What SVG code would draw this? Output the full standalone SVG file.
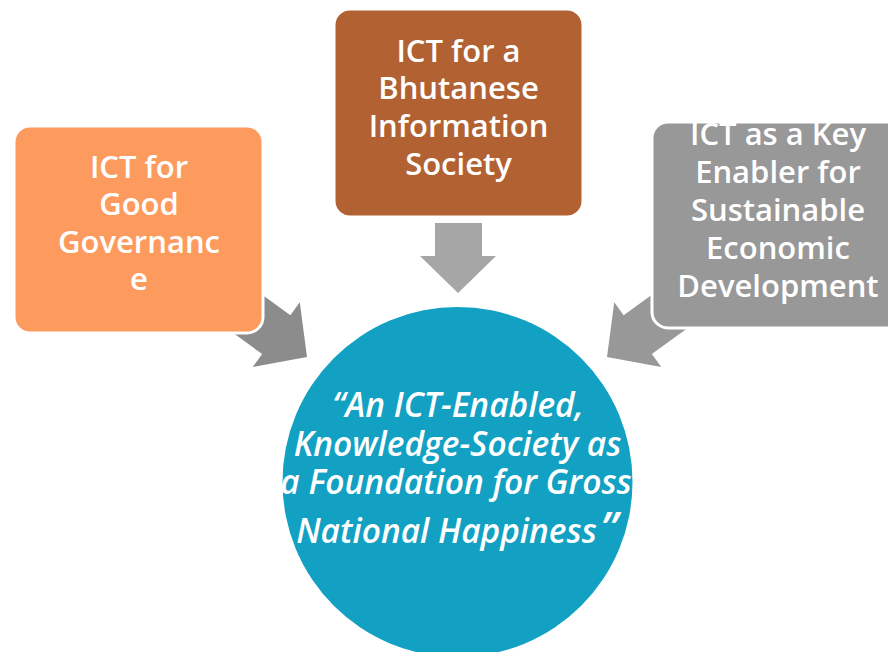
<svg xmlns="http://www.w3.org/2000/svg" width="888" height="652" viewBox="0 0 888 652">
<style>
.box{stroke:#fff;stroke-width:3}
.bt{font-family:"Open Sans","Liberation Sans",sans-serif;font-weight:600;font-size:31px;fill:#fff;text-anchor:middle}
.ct{font-family:"Open Sans","Liberation Sans",sans-serif;font-weight:600;font-style:italic;font-size:33.5px;fill:#fff;text-anchor:middle}
</style>
<defs>
<path id="arr" d="M0,0 L-38,-40 L-38,-24 L-110,-24 L-110,24 L-38,24 L-38,40 Z"/>
</defs>
<rect width="888" height="652" fill="#fff"/>
<g id="connectors">
<use href="#arr" transform="translate(307,357) rotate(36)" fill="#8C8C8C"/>
<use href="#arr" transform="translate(607,357) rotate(144)" fill="#989898"/>
<path d="M435,223 H482 V256 H496 L458,293 L420,256 H435 Z" fill="#A6A6A6"/>
</g>
<g id="good-governance">
<rect class="box" x="14" y="126" width="249" height="207" rx="16" fill="#FD9B5F"/>
<text class="bt" x="139" y="178">ICT for</text>
<text class="bt" x="139" y="215">Good</text>
<text class="bt" x="139" y="253">Governanc</text>
<text class="bt" x="139" y="290">e</text>
</g>
<g id="information-society">
<rect class="box" x="334" y="9" width="249" height="208" rx="16" fill="#B26132"/>
<text class="bt" x="458.5" y="62">ICT for a</text>
<text class="bt" x="458.5" y="99">Bhutanese</text>
<text class="bt" x="458.5" y="137">Information</text>
<text class="bt" x="458.5" y="175">Society</text>
</g>
<g id="economic-development">
<rect class="box" x="652" y="122" width="252" height="206" rx="16" fill="#989898"/>
<text class="bt" x="778" y="145">ICT as a Key</text>
<text class="bt" x="778" y="183">Enabler for</text>
<text class="bt" x="778" y="221">Sustainable</text>
<text class="bt" x="778" y="259">Economic</text>
<text class="bt" x="778" y="297">Development</text>
</g>
<g id="vision">
<circle cx="457.5" cy="482" r="175" fill="#12A1C3"/>
<text class="ct" x="458" y="417">“An ICT-Enabled,</text>
<text class="ct" x="457.5" y="456">Knowledge-Society as</text>
<text class="ct" x="456" y="494">a Foundation for Gross</text>
<text class="ct" x="446.5" y="543">National Happiness</text>
<text class="ct" x="609" y="543" style="font-size:44px">”</text>
</g>
</svg>
